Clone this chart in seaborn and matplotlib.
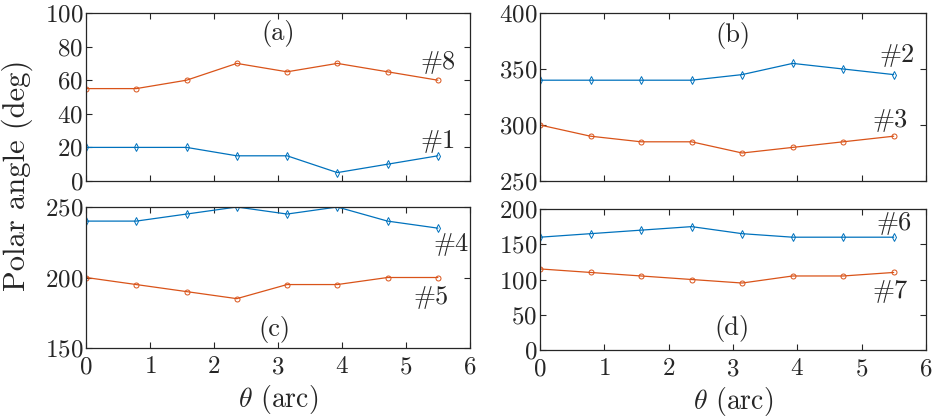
import numpy as np
import pandas as pd
import matplotlib
matplotlib.use('Agg')
import matplotlib.pyplot as plt
import seaborn as sns

# data
theta = [0, 0.785, 1.571, 2.356, 3.142, 3.927, 4.712, 5.498]

a_blue = [20, 20, 20, 15, 15, 5, 10, 15]          # #1
a_orange = [55, 55, 60, 70, 65, 70, 65, 60]      # #8
b_blue = [340, 340, 340, 340, 345, 355, 350, 345]  # #2
b_orange = [300, 290, 285, 285, 275, 280, 285, 290]  # #3
c_blue = [240, 240, 245, 250, 245, 250, 240, 235]  # #4
c_orange = [200, 195, 190, 185, 195, 195, 200, 200]  # #5
d_blue = [160, 165, 170, 175, 165, 160, 160, 160]  # #6
d_orange = [115, 110, 105, 100, 95, 105, 105, 110]  # #7

panel_labels = ['(a)', '(b)', '(c)', '(d)']
blue_names = ['#1', '#2', '#4', '#6']
orange_names = ['#8', '#3', '#5', '#7']

sns.set_style('ticks')
plt.rcParams['font.family'] = ['cmr10', 'DejaVu Serif']
plt.rcParams['mathtext.fontset'] = 'cm'
plt.rcParams['axes.formatter.use_mathtext'] = True
plt.rcParams['xtick.direction'] = 'in'
plt.rcParams['ytick.direction'] = 'in'
plt.rcParams['xtick.top'] = True
plt.rcParams['ytick.right'] = True

BLUE = '#0072BD'
ORANGE = '#D95319'

fig = plt.figure(figsize=(9.34, 4.17), dpi=100)
# axes rectangles in pixels (left, top, width, height)
W, H = 934, 417
rects = [(86, 13, 384, 168), (540, 13, 386, 168),
         (86, 207, 384, 141), (540, 209, 386, 141)]
axes = [fig.add_axes([l / W, 1 - (t + h) / H, w / W, h / H]) for l, t, w, h in rects]

series = [(a_blue, a_orange), (b_blue, b_orange), (c_blue, c_orange), (d_blue, d_orange)]
ylims = [(0, 100), (250, 400), (150, 250), (0, 200)]
yticks = [np.arange(0, 101, 20), np.arange(250, 401, 50),
          np.arange(150, 251, 50), np.arange(0, 201, 50)]

# text positions: (panel label x, y), (blue label x, y), (orange label x, y)
text_pos = [
    ((3.0, 88), (5.5, 24), (5.5, 71)),
    ((3.0, 380), (5.55, 362), (5.45, 304)),
    ((2.95, 163), (5.7, 224), (5.4, 186)),
    ((2.98, 31), (5.5, 180), (5.45, 84)),
]

for i, ax in enumerate(axes):
    blue, orange = series[i]
    sns.lineplot(x=theta, y=blue, ax=ax, color=BLUE, marker='d', markersize=4.2,
                 markerfacecolor='none', markeredgecolor=BLUE, markeredgewidth=0.7,
                 linewidth=0.9)
    sns.lineplot(x=theta, y=orange, ax=ax, color=ORANGE, marker='o', markersize=3.6,
                 markerfacecolor='none', markeredgecolor=ORANGE, markeredgewidth=0.7,
                 linewidth=0.9)
    ax.set_xlim(0, 6)
    ax.set_ylim(*ylims[i])
    ax.set_xticks(range(7))
    ax.set_yticks(yticks[i])
    ax.tick_params(labelsize=18, length=4, width=0.8)
    ax.tick_params(axis='x', pad=6)
    ax.tick_params(axis='y', pad=2)
    for s in ax.spines.values():
        s.set_linewidth(0.9)
        s.set_color('#262626')
    if i < 2:
        ax.set_xticklabels([])
    else:
        ax.set_xlabel(r'$\theta$ (arc)', fontsize=20, labelpad=3)
    (px, py), (bx, by), (ox, oy) = text_pos[i]
    ax.text(px, py, panel_labels[i], fontsize=19, ha='center', va='center')
    ax.text(bx, by, blue_names[i], fontsize=19, ha='center', va='center')
    ax.text(ox, oy, orange_names[i], fontsize=19, ha='center', va='center')

fig.text(0.018, 0.58, 'Polar angle (deg)', rotation=90, fontsize=22,
         ha='center', va='center')

fig.savefig('out.png', dpi=100)
